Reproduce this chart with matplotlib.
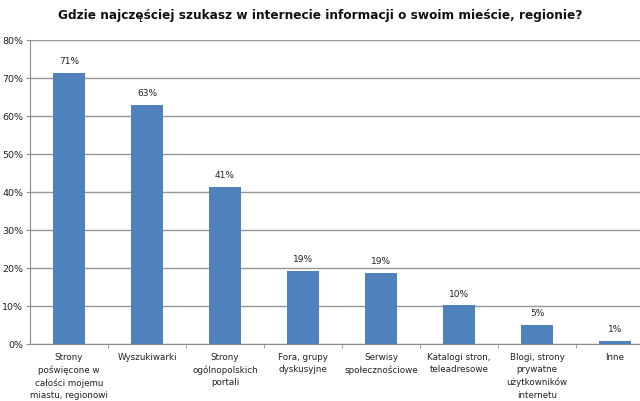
import matplotlib
matplotlib.use("Agg")
import matplotlib.pyplot as plt
from matplotlib.ticker import FuncFormatter, FixedLocator

title = "Gdzie najczęściej szukasz w internecie informacji o swoim mieście, regionie?"
categories = [
    "Strony\npoświęcone w\ncałości mojemu\nmiastu, regionowi",
    "Wyszukiwarki",
    "Strony\nogólnopolskich\nportali",
    "Fora, grupy\ndyskusyjne",
    "Serwisy\nspołecznościowe",
    "Katalogi stron,\nteleadresowe",
    "Blogi, strony\nprywatne\nużytkowników\ninternetu",
    "Inne",
]
values = [71.3, 62.9, 41.4, 19.3, 18.7, 10.2, 5.0, 0.8]
yticks = [0, 10, 20, 30, 40, 50, 60, 70, 80]

bar_color = "#4F81BD"
text_color = "#222222"

fig = plt.figure(figsize=(6.4, 4.02), dpi=100)
ax = fig.add_axes([30 / 640, 57 / 402, 624 / 640, 304 / 402])

x = range(len(categories))
bars = ax.bar(x, values, width=0.40, color=bar_color, zorder=3)

for b, v in zip(bars, values):
    ax.text(b.get_x() + b.get_width() / 2, v + 2.0, f"{round(v)}%",
            ha="center", va="bottom", fontsize=6.5, color=text_color)

ax.set_xlim(-0.5, len(categories) - 0.5)
ax.set_ylim(0, 80)
ax.set_yticks(yticks)
ax.yaxis.set_major_formatter(FuncFormatter(lambda v, p: f"{int(v)}%"))
ax.grid(axis="y", color="#969696", linewidth=1.0, zorder=0)

ax.set_xticks(list(x))
ax.set_xticklabels(categories, fontsize=6.3, color=text_color, linespacing=1.45,
                   va="top")
ax.tick_params(axis="x", length=0, pad=6)
ax.xaxis.set_minor_locator(FixedLocator([i + 0.5 for i in range(len(categories) - 1)]))
ax.tick_params(axis="x", which="minor", length=3, color="#8c8c8c")
ax.tick_params(axis="y", labelsize=6.8, labelcolor=text_color, length=3,
               color="#8c8c8c", pad=2)

for s in ["top", "right"]:
    ax.spines[s].set_visible(False)
ax.spines["left"].set_color("#8c8c8c")
ax.spines["bottom"].set_color("#8c8c8c")

fig.text(0.5, 1 - 15 / 402, title, ha="center", va="center",
         fontsize=8.7, fontweight="bold", color="#111111")

fig.savefig("out.png", dpi=100)
